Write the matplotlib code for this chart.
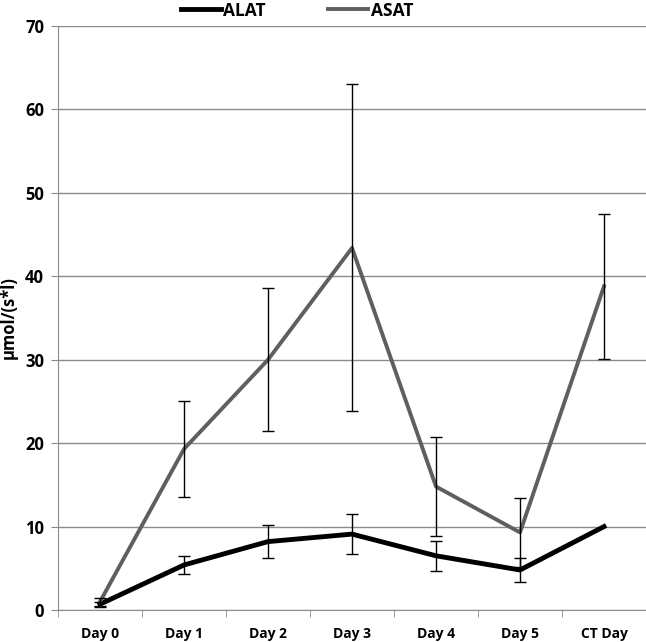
import numpy as np
import matplotlib
matplotlib.use('Agg')
from matplotlib import pyplot as plt

days = ['Day 0', 'Day 1', 'Day 2', 'Day 3', 'Day 4', 'Day 5', 'CT Day']
alat = [0.7, 5.4, 8.2, 9.1, 6.5, 4.8, 10.0]
alat_err = [0.3, 1.1, 1.95, 2.35, 1.8, 1.45, 0.0]
asat = [1.0, 19.3, 30.0, 43.4, 14.8, 9.3, 38.8]
asat_err = [0.5, 5.8, 8.6, 19.6, 5.9, 4.1, 8.7]

plt.rcParams['font.family'] = ['Open Sans', 'DejaVu Sans']
plt.rcParams['font.weight'] = 'bold'

fig = plt.figure(figsize=(6.46, 6.42), dpi=100)
ax = fig.add_axes([0.0898, 0.0498, 0.9102, 0.9097])

x = np.arange(len(days))
ax.plot(x, alat, color='black', lw=3.5, label='ALAT', zorder=3)
ax.plot(x, asat, color='#5f5f5f', lw=2.8, label='ASAT', zorder=3)
ax.errorbar(x[:-1], alat[:-1], yerr=alat_err[:-1], fmt='none', ecolor='black',
            elinewidth=1, capsize=4, capthick=1, zorder=4)
ax.errorbar(x, asat, yerr=asat_err, fmt='none', ecolor='black',
            elinewidth=1, capsize=4, capthick=1, zorder=4)

ax.set_xlim(-0.5, len(days) - 0.5)
ax.set_ylim(0, 70)
ax.set_yticks(range(0, 71, 10))
ax.yaxis.grid(True, color='#8c8c8c', lw=1)
ax.set_axisbelow(True)
ax.set_xticks(x)
ax.set_xticklabels(days, fontsize=10, fontweight='bold')
ax.set_xticks(np.arange(-0.5, len(days)), minor=True)
ax.tick_params(axis='x', which='major', length=0, pad=12)
ax.tick_params(axis='x', which='minor', length=5, color='#8c8c8c')
ax.tick_params(axis='y', length=5, color='#8c8c8c', labelsize=12, pad=5)
for lbl in ax.get_yticklabels():
    lbl.set_fontweight('bold')
for s in ['top', 'right']:
    ax.spines[s].set_visible(False)
ax.spines['left'].set_color('#8c8c8c')
ax.spines['bottom'].set_color('#8c8c8c')
ax.set_ylabel('µmol/(s*l)', fontsize=12, fontweight='bold')
ax.yaxis.set_label_coords(-0.068, 0.5)

fig.legend(loc='upper center', bbox_to_anchor=(0.46, 1.022), ncol=2, frameon=False,
           handlelength=2.3, handletextpad=0.15, columnspacing=3.6,
           prop={'weight': 'bold', 'size': 12.5})

fig.savefig('out.png', dpi=100)
